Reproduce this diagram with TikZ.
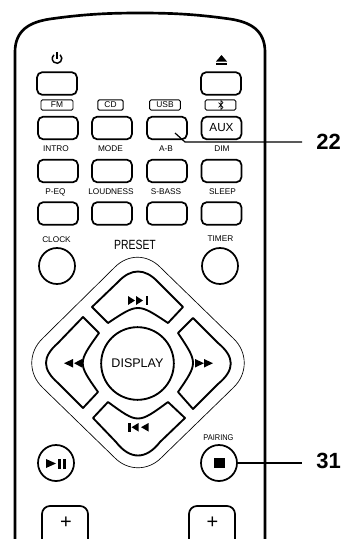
\documentclass[tikz,border=0pt]{standalone}
\usepackage{fontspec}
\setmainfont{Liberation Sans}
\tikzset{
  keybtn/.style={draw,line width=1.3pt,rounded corners=4pt,minimum width=30pt,minimum height=17pt,inner sep=0pt},
  modebox/.style={draw,line width=0.7pt,rounded corners=1pt,minimum height=7.6pt,inner sep=0pt,font=\fontsize{6.3pt}{7pt}\selectfont},
  roundbtn/.style={draw,circle,line width=1.3pt,minimum size=27pt,inner sep=0pt},
  keylabel/.style={inner sep=0pt,font=\fontsize{6.2pt}{7pt}\selectfont},
  padkey/.style={line width=1.4pt,line join=round},
  icon/.style={fill=black,draw=none},
  callout/.style={inner sep=0pt,font=\fontsize{16.5pt}{18pt}\selectfont\bfseries},
  leader/.style={line width=0.9pt}
}
\begin{document}
\begin{tikzpicture}[x=0.75pt,y=0.75pt,yscale=-1,xscale=1]
\useasboundingbox (0,0) rectangle (343,539);

%Shape: Body
\draw [line width=2pt] (15,539) -- (15,52) .. controls (15,30) and (30,22) .. (50,19) .. controls (85,14) and (110,13) .. (140,13) .. controls (170,13) and (195,14) .. (230,19) .. controls (250,22) and (265,30) .. (265,52) -- (265,539);

%Shape: Top row
\node [keybtn] (power) at (57,83.5) {};
\node [keybtn] (eject) at (221,83.5) {};
% Text Node
\node [modebox,minimum width=24pt] (fm) at (57,105) {FM};
\node [modebox,minimum width=19pt] (cd) at (110.5,105) {CD};
\node [modebox,minimum width=23pt] (usb) at (165,105) {USB};
\node [modebox,minimum width=23pt] (bt) at (220.5,105) {};

%Shape: Second row
\node [keybtn] (intro) at (58,128) {};
\node [keybtn] (mode) at (112,128) {};
\node [keybtn] (ab) at (167,128) {};
\node [keybtn,font=\fontsize{8.8pt}{10pt}\selectfont] (aux) at (221.5,128) {AUX};
% Text Node
\node [keylabel] (introlabel) at (56,148.5) {INTRO};
\node [keylabel] (modelabel) at (110.5,148.5) {MODE};
\node [keylabel] (ablabel) at (166,148.5) {A-B};
\node [keylabel] (dimlabel) at (222,148.5) {DIM};

%Shape: Third row
\node [keybtn] (peq) at (58,171) {};
\node [keybtn] (loudness) at (112,171) {};
\node [keybtn] (sbass) at (167,171) {};
\node [keybtn] (sleep) at (221.5,171) {};
% Text Node
\node [keylabel] (peqlabel) at (55.5,192) {P-EQ};
\node [keylabel] (loudnesslabel) at (111,192) {LOUDNESS};
\node [keylabel] (sbasslabel) at (166,192) {S-BASS};
\node [keylabel] (sleeplabel) at (222.5,192) {SLEEP};

%Shape: Fourth row
\node [keybtn] (pref) at (58,213.5) {};
\node [keybtn] (loud) at (112,213.5) {};
\node [keybtn] (bass) at (167,213.5) {};
\node [keybtn] (slp) at (221.5,213.5) {};

%Shape: Clock and timer
\node [roundbtn] (clock) at (57,266) {};
\node [roundbtn] (timer) at (220,266) {};
% Text Node
\node [keylabel] (clocklabel) at (56.5,239.5) {CLOCK};
\node [keylabel] (timerlabel) at (220.5,239) {TIMER};
\node [inner sep=0pt,font=\fontsize{10pt}{12pt}\selectfont] (preset) at (135,245) {\scalebox{.78}[1]{PRESET}};

%Shape: Outer diamond
\draw [line width=0.5pt] (115,267) .. controls (128,254) and (147,254) .. (160,267) -- (233,338) .. controls (248,352) and (248,374) .. (233,388) -- (161,458) .. controls (148,471) and (128,471) .. (115,458) -- (43,388) .. controls (28,374) and (28,352) .. (43,338) -- cycle ;
%Shape: Pad keys
\draw [padkey] (92,307) -- (108,323) .. controls (138,303) .. (168,323) -- (183,307) -- (158,282) .. controls (145,268) and (131,268) .. (118,282) -- cycle ;
\draw [padkey] (83,317) -- (99,333) .. controls (77.5,363) .. (98,392) -- (83,408) -- (58,383) .. controls (42,369) and (42,357) .. (58,343) -- cycle ;
\draw [padkey] (193,318) -- (178,333) .. controls (198,363) .. (178,392) -- (193,409) -- (218,384) .. controls (235,370) and (235,357) .. (218,343) -- cycle ;
\draw [padkey] (108,402) .. controls (138,424) .. (168,402) -- (185,418) -- (160,442) .. controls (146,460) and (130,460) .. (116,442) -- (93,418) -- cycle ;
\node [draw,circle,line width=1.4pt,minimum size=54.5pt,inner sep=0pt,font=\fontsize{9.4pt}{11pt}\selectfont] (display) at (137.5,363.5) {DISPLAY};

%Shape: Play and stop
\node [roundbtn] (play) at (56,463) {};
\node [roundbtn] (stop) at (219,463) {};
% Text Node
\node [keylabel] (pairing) at (218.5,438) {\scalebox{.9}[1]{PAIRING}};

%Shape: Icons
\draw [line width=1.1pt] (60.1,54.8) arc (-50:230:4.8) ;
\draw [line width=1.1pt] (57,52) -- (57,59) ;
\fill [icon] (216,61.5) -- (221.5,55) -- (227,61.5) -- cycle ;
\fill [icon] (216,63) rectangle (227,65) ;
\draw [line width=0.5pt] (218.5,102.5) -- (223,107.5) -- (221,109.5) -- (221,100.5) -- (223,102.5) -- (218.5,107.5) ;
\fill [icon] (128,296) -- (135,300.5) -- (128,305) -- cycle ;
\fill [icon] (136,296) -- (143,300.5) -- (136,305) -- cycle ;
\fill [icon] (145.5,296) rectangle (148,305) ;
\fill [icon] (128,423) rectangle (130.5,431.5) ;
\fill [icon] (138.5,423) -- (131.5,427.2) -- (138.5,431.5) -- cycle ;
\fill [icon] (148.5,423) -- (141,427.2) -- (148.5,431.5) -- cycle ;
\fill [icon] (73,359) -- (64,363.2) -- (73,367.5) -- cycle ;
\fill [icon] (82,359) -- (74,363.2) -- (82,367.5) -- cycle ;
\fill [icon] (195,359) -- (204,363.2) -- (195,367.5) -- cycle ;
\fill [icon] (204,359) -- (213,363.2) -- (204,367.5) -- cycle ;
\fill [icon] (46,459) -- (56,463.5) -- (46,468) -- cycle ;
\fill [icon] (58,458.5) rectangle (60.5,468.5) ;
\fill [icon] (63,458.5) rectangle (66,468.5) ;
\fill [icon] (214,458) rectangle (225,468) ;

%Shape: Plus keys
\draw [line width=1.3pt,rounded corners=6pt] (42,539) -- (42,506) -- (88,506) -- (88,539) ;
\draw [line width=1.3pt,rounded corners=6pt] (189,539) -- (189,506) -- (235,506) -- (235,539) ;
% Text Node
\node [inner sep=0pt,font=\fontsize{15pt}{17pt}\selectfont] (plusa) at (66,522.5) {+};
\node [inner sep=0pt,font=\fontsize{15pt}{17pt}\selectfont] (plusb) at (212.5,522.5) {+};

% Text Node
\node [callout,anchor=west] (numa) at (316,141.5) {22};
\node [callout,anchor=west] (numb) at (316,461) {31};
\coordinate (leadstart) at (175,133);
\coordinate (leadbend) at (185,142);
\coordinate (leadenda) at (302,142);
\coordinate (leadendb) at (302,463);
\draw [leader] (leadstart) -- (leadbend) -- (leadenda) ;
\draw [leader] (stop.east) -- (leadendb) ;

\end{tikzpicture}
\end{document}
